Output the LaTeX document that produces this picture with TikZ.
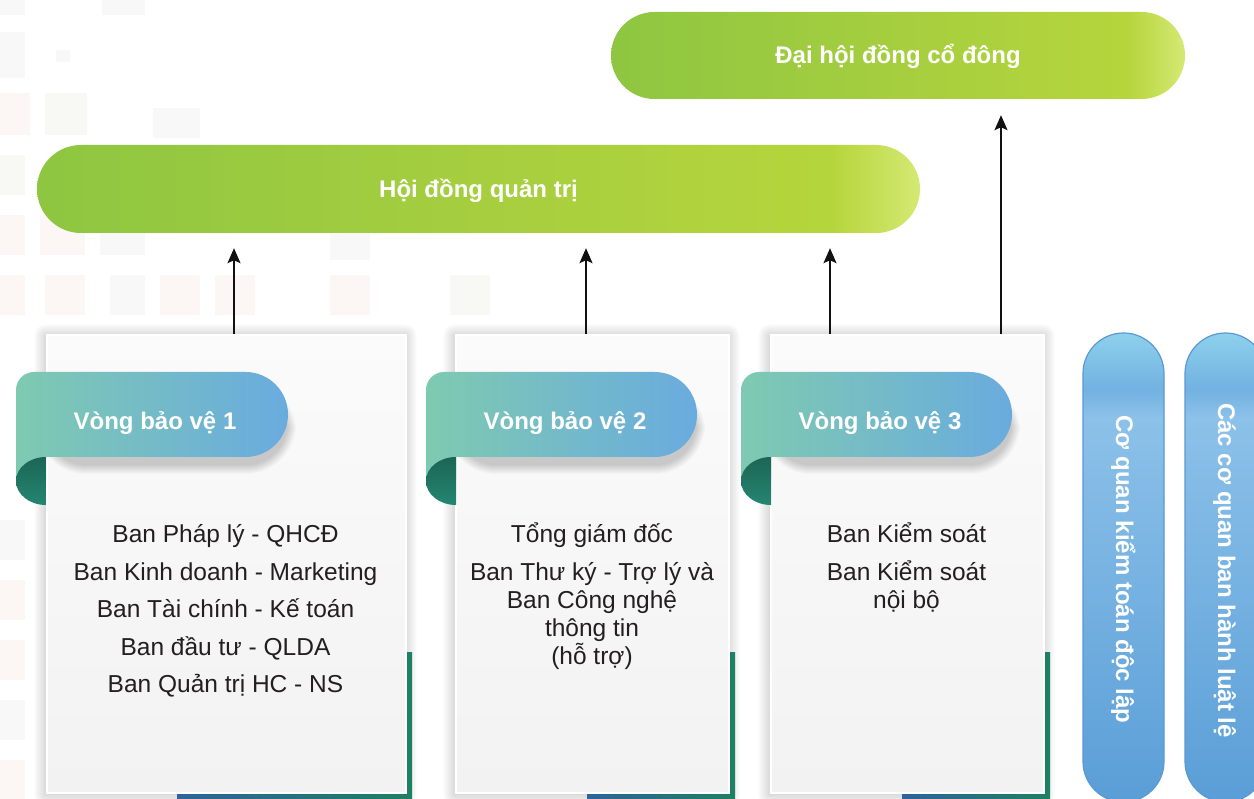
\documentclass[tikz,border=0pt]{standalone}
\usepackage{fontspec}
\setmainfont{Liberation Sans}
\usetikzlibrary{arrows.meta}

% palette
\definecolor{txt}{HTML}{231F20}
\definecolor{gL}{HTML}{8EC641}
\definecolor{gM}{HTML}{A6CE3F}
\definecolor{gR}{HTML}{B6D53C}
\definecolor{gE}{HTML}{D4E973}
\definecolor{rbL}{HTML}{7ECAB0}
\definecolor{rbR}{HTML}{6AABDF}
\definecolor{curlA}{HTML}{1C6555}
\definecolor{curlB}{HTML}{248671}
\definecolor{stripB}{HTML}{2E639C}
\definecolor{stripG}{HTML}{1E8063}
\definecolor{vpT}{HTML}{8DD1EC}
\definecolor{vpM}{HTML}{72B1E1}
\definecolor{vpL}{HTML}{8CC1E9}
\definecolor{vpB}{HTML}{5A9ED7}
\definecolor{vpE}{HTML}{5A99D4}
\definecolor{cardT}{HTML}{FBFBFB}
\definecolor{cardB}{HTML}{F2F2F2}
\definecolor{arrowc}{HTML}{111111}
\definecolor{bgA}{HTML}{F9F8F8}
\definecolor{bgP}{HTML}{FCF6F4}
\definecolor{bgG}{HTML}{F8F9F4}

\pgfdeclarehorizontalshading{leafbar}{100bp}{color(0bp)=(gL); color(25bp)=(gL); color(50bp)=(gM); color(70bp)=(gR); color(75bp)=(gE); color(100bp)=(gE)}
\pgfdeclareverticalshading{skybar}{100bp}{color(0bp)=(vpB); color(25bp)=(vpB); color(66bp)=(vpL); color(69bp)=(vpM); color(75bp)=(vpT); color(100bp)=(vpT)}

\tikzset{
  leafpill/.style={shape=rectangle, shade, shading=leafbar, inner sep=0pt,
    text=white, font=\bfseries\fontsize{24}{28}\selectfont,
    text height=17pt, text depth=0pt},
  skypill/.style={shape=rectangle, rounded corners=40.5pt, shade, shading=skybar,
    draw=vpE, line width=1.2pt, minimum width=81pt, minimum height=469pt, inner sep=0pt},
  vtext/.style={text=white, font=\bfseries\fontsize{24}{28}\selectfont, inner sep=0pt,
    text height=17pt, text depth=0pt, rotate=-90},
  cardbox/.style={shape=rectangle, draw=white, line width=2.2pt, top color=cardT, bottom color=cardB,
    inner sep=0pt, anchor=north west, minimum height=458pt},
  haze/.style={fill=black, opacity=0.011},
  ribbonfill/.style={left color=rbL, right color=rbR},
  curlfill/.style={top color=curlA, bottom color=curlB},
  stripfill/.style={left color=stripB, right color=stripG},
  ribbontext/.style={text=white, font=\bfseries\fontsize{24}{28}\selectfont, inner sep=0pt,
    text height=17pt, text depth=0pt},
  bodytext/.style={text=txt, font=\fontsize{24.5}{28}\selectfont, inner sep=0pt, anchor=base},
  link/.style={draw=arrowc, line width=1.8pt, -{Stealth[length=15pt,width=13pt,inset=3pt]}},
}

\begin{document}
\begin{tikzpicture}[x=1pt,y=-1pt]
\useasboundingbox (0,0) rectangle (1254,799);
\fill[white] (0,0) rectangle (1254,799);

% faint tiled backdrop on the left
\foreach \x/\y/\w/\h/\c in {
  0/0/25/15/bgA, 102/0/43/15/bgA, 0/32/25/46/bgA, 56/50/14/12/bgA,
  0/93/30/42/bgP, 45/93/42/42/bgG, 153/108/47/30/bgA, 0/155/25/40/bgG,
  0/215/25/40/bgP, 40/215/45/40/bgP, 100/215/45/40/bgA, 330/230/40/30/bgA,
  0/275/25/40/bgP, 45/275/40/40/bgP, 110/275/35/40/bgA, 160/275/40/40/bgP,
  215/275/40/40/bgP, 330/275/40/40/bgP, 450/275/40/40/bgG,
  0/520/25/40/bgA, 0/580/25/40/bgP, 0/640/25/40/bgP, 0/700/25/40/bgA, 0/760/25/40/bgP}
  \fill[\c] (\x,\y) rectangle ++(\w,\h);

% governing bodies
\node[leafpill, rounded corners=43.5pt, minimum width=574pt, minimum height=87pt] (dhd) at (898,55.5) {Đại hội đồng cổ đông};
\node[leafpill, rounded corners=44pt, minimum width=883pt, minimum height=88pt] (hdqt) at (478.5,189) {Hội đồng quản trị};

% soft shadows round the cards
\foreach \a/\b in {46/405, 455/728, 770/1043}{
  \foreach \k in {1,...,12}{
    \fill[haze, rounded corners=\k pt] (\a-\k,334-\k+2) rectangle (\b+\k,792+\k+2);
  }
}

% coloured frames peeking out behind the cards
\shade[stripfill] (177,652) rectangle (412,799);
\shade[stripfill] (587,652) rectangle (735,799);
\shade[stripfill] (902,652) rectangle (1050,799);

% cards
\node[cardbox, minimum width=359pt] (c1) at (46,334) {};
\node[cardbox, minimum width=273pt] (c2) at (455,334) {};
\node[cardbox, minimum width=273pt] (c3) at (770,334) {};

% ribbons: shadow, band, then curl
\foreach \l/\r in {16/288, 426/697, 741/1012}{
  \pgfmathsetmacro{\cl}{\l+30}
  \pgfmathsetmacro{\ce}{\r-42.5}
  \foreach \k in {1,...,10}{
    \pgfmathsetmacro{\rr}{40+\k}
    \fill[haze, opacity=0.018, rounded corners=\rr pt] (\cl-\k,385-\k+7) rectangle (\r+\k-2,457+\k+7);
  }
  \shade[ribbonfill] (\cl,481) -- (\l,481) -- (\l,390)
     arc[start angle=180, end angle=270, radius=18] -- (\ce,372)
     arc[start angle=-90, end angle=90, radius=42.5] -- (\cl,457) -- cycle;
  \shade[curlfill] (\cl,457) arc[start angle=270, end angle=90, x radius=30, y radius=24] -- cycle;
}

\node[ribbontext] (r1) at (155,421) {Vòng bảo vệ 1};
\node[ribbontext] (r2) at (565,421) {Vòng bảo vệ 2};
\node[ribbontext] (r3) at (880,421) {Vòng bảo vệ 3};

% card contents
\node[bodytext] (t11) at (225.5,543) {Ban Pháp lý - QHCĐ};
\node[bodytext] (t12) at (225.5,580) {Ban Kinh doanh - Marketing};
\node[bodytext] (t13) at (225.5,617.5) {Ban Tài chính - Kế toán};
\node[bodytext] (t14) at (225.5,655) {Ban đầu tư - QLDA};
\node[bodytext] (t15) at (225.5,692.5) {Ban Quản trị HC - NS};

\node[bodytext] (t21) at (592,543) {Tổng giám đốc};
\node[bodytext] (t22) at (592,580) {Ban Thư ký - Trợ lý và};
\node[bodytext] (t23) at (592,608) {Ban Công nghệ};
\node[bodytext] (t24) at (592,636) {thông tin};
\node[bodytext] (t25) at (592,664) {(hỗ trợ)};

\node[bodytext] (t31) at (906.5,543) {Ban Kiểm soát};
\node[bodytext] (t32) at (906.5,580) {Ban Kiểm soát};
\node[bodytext] (t33) at (906.5,608) {nội bộ};

% external bodies
\node[skypill] (audit) at (1123.5,567.5) {};
\node[vtext] (auditt) at (1124.5,569.5) {Cơ quan kiểm toán độc lập};
\node[skypill] (regs) at (1225.5,567.5) {};
\node[vtext] (regst) at (1226.5,570.5) {Các cơ quan ban hành luật lệ};

% reporting lines
\coordinate (x1) at (234,0);
\coordinate (x2) at (586,0);
\coordinate (x3) at (830,0);
\coordinate (x4) at (1001,0);
\draw[link, shorten >=15pt] (c1.north -| x1) -- (hdqt.south -| x1);
\draw[link, shorten >=15pt] (c2.north -| x2) -- (hdqt.south -| x2);
\draw[link, shorten >=15pt] (c3.north -| x3) -- (hdqt.south -| x3);
\draw[link, shorten >=16pt] (c3.north -| x4) -- (dhd.south -| x4);
\end{tikzpicture}
\end{document}
